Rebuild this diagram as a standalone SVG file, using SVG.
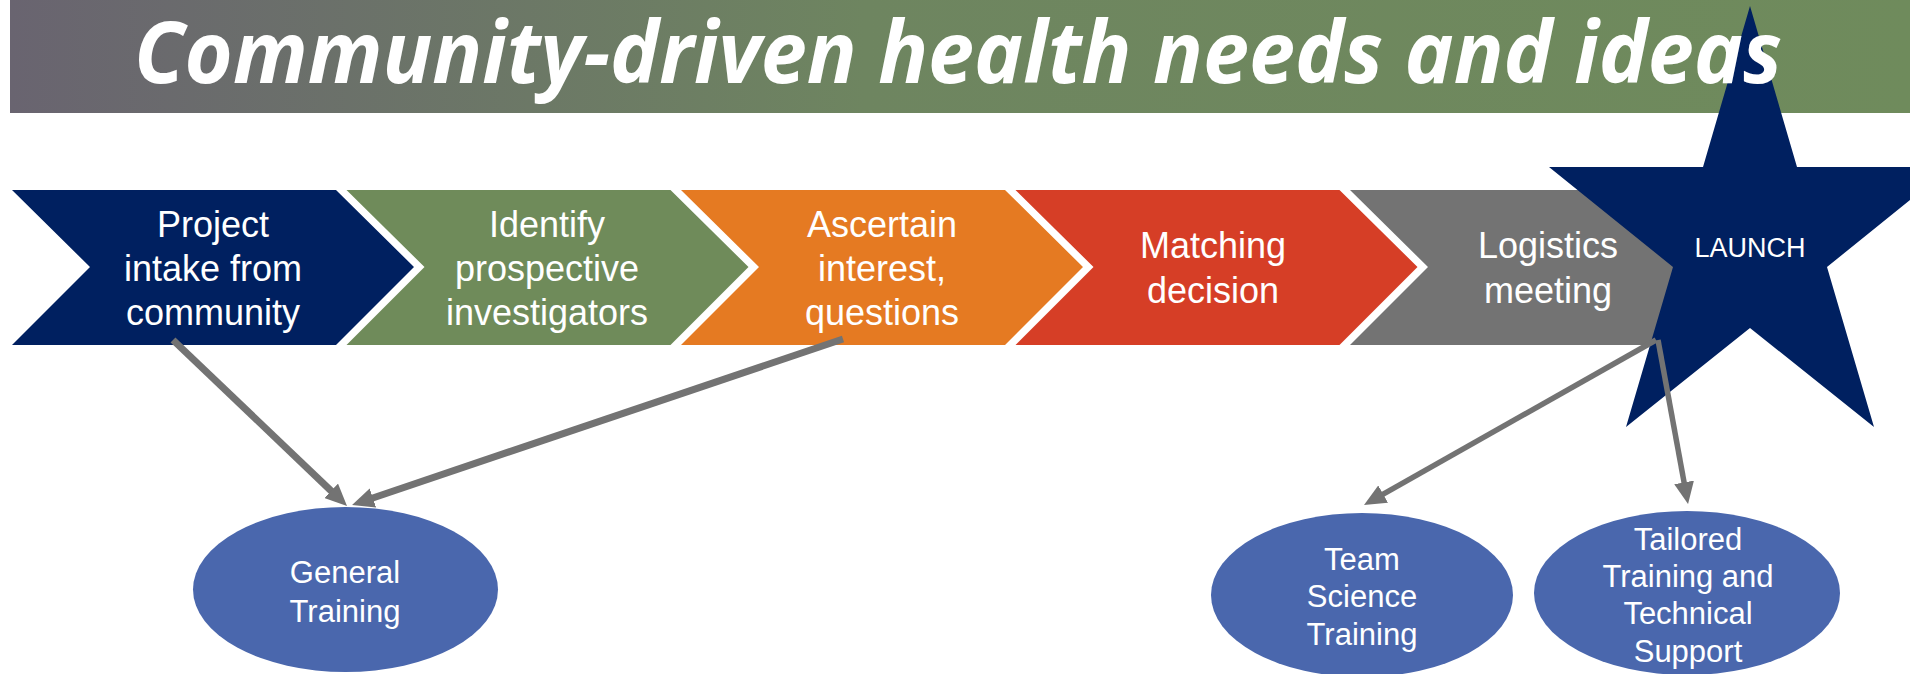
<svg xmlns="http://www.w3.org/2000/svg" width="1919" height="674" viewBox="0 0 1919 674">
<defs>
<linearGradient id="barGrad" x1="0" y1="0" x2="1" y2="0">
<stop offset="0" stop-color="#696470"/>
<stop offset="0.45" stop-color="#6E8560"/>
<stop offset="1" stop-color="#6F8B5C"/>
</linearGradient>
<clipPath id="slideClip">
<rect x="0" y="0" width="1910" height="674"/>
</clipPath>
<marker id="head" markerUnits="userSpaceOnUse" viewBox="0 0 22 20" markerWidth="22" markerHeight="20" refX="4" refY="10" orient="auto">
<path d="M0,0 L22,10 L0,20 z" fill="#737373"/>
</marker>
</defs>
<style>
.chev-text{font-family:"Liberation Sans",Arial,sans-serif;font-size:36px;fill:#FFFFFF;text-anchor:middle}
.ell-text{font-family:"Liberation Sans",Arial,sans-serif;font-size:31px;fill:#FFFFFF;text-anchor:middle}
.ell{fill:#4A67AD}
.conn{stroke:#737373;fill:none}
</style>
<rect width="1919" height="674" fill="#FFFFFF"/>
<g id="title-bar">
<rect x="10" y="0" width="1900" height="113" fill="url(#barGrad)"/>
</g>
<g id="step1">
<polygon points="12,190 336,190 414,267 336,345 12,345 90,267" fill="#002060"/>
<text class="chev-text"><tspan x="213" y="237">Project</tspan><tspan x="213" y="281">intake from</tspan><tspan x="213" y="325">community</tspan></text>
</g>
<g id="step2">
<polygon points="346.5,190 670.5,190 748.5,267 670.5,345 346.5,345 424.5,267" fill="#6F8B5A"/>
<text class="chev-text"><tspan x="547" y="237">Identify</tspan><tspan x="547" y="281">prospective</tspan><tspan x="547" y="325">investigators</tspan></text>
</g>
<g id="step3">
<polygon points="681,190 1005,190 1083,267 1005,345 681,345 759,267" fill="#E57A22"/>
<text class="chev-text"><tspan x="882" y="237">Ascertain</tspan><tspan x="882" y="281">interest,</tspan><tspan x="882" y="325">questions</tspan></text>
</g>
<g id="step4">
<polygon points="1015.5,190 1339.5,190 1417.5,267 1339.5,345 1015.5,345 1093.5,267" fill="#D63E26"/>
<text class="chev-text"><tspan x="1213" y="258">Matching</tspan><tspan x="1213" y="303">decision</tspan></text>
</g>
<g id="step5">
<polygon points="1350,190 1674,190 1752,267 1674,345 1350,345 1428,267" fill="#737373"/>
<text class="chev-text"><tspan x="1548" y="258">Logistics</tspan><tspan x="1548" y="303">meeting</tspan></text>
</g>
<g id="launch">
<polygon clip-path="url(#slideClip)" points="1750,6 1797,167 1951,167 1827,267 1874,427 1750,328 1626,427 1673,267 1549,167 1703,167" fill="#002060"/>
<text x="1750" y="257" font-family="Liberation Sans, Arial, sans-serif" font-size="27" fill="#FFFFFF" text-anchor="middle">LAUNCH</text>
</g>
<g id="title-text">
<text x="134" y="83" font-family="Open Sans, sans-serif" font-weight="700" font-style="italic" font-size="86" fill="#FFFFFF" textLength="1648" lengthAdjust="spacingAndGlyphs">Community-driven health needs and ideas</text>
</g>
<g id="general-training">
<ellipse class="ell" cx="345.5" cy="589.5" rx="152.5" ry="82.5"/>
<text class="ell-text"><tspan x="345" y="583">General</tspan><tspan x="345" y="622">Training</tspan></text>
</g>
<g id="team-science-training">
<ellipse class="ell" cx="1362" cy="595" rx="151" ry="82"/>
<text class="ell-text"><tspan x="1362" y="570">Team</tspan><tspan x="1362" y="607">Science</tspan><tspan x="1362" y="645">Training</tspan></text>
</g>
<g id="tailored-training">
<ellipse class="ell" cx="1687" cy="593" rx="153" ry="82"/>
<text class="ell-text"><tspan x="1688" y="550">Tailored</tspan><tspan x="1688" y="587">Training and</tspan><tspan x="1688" y="624">Technical</tspan><tspan x="1688" y="662">Support</tspan></text>
</g>
<g id="connectors">
<line class="conn" x1="173" y1="340" x2="334" y2="493.6" stroke-width="7" marker-end="url(#head)"/>
<line class="conn" x1="843" y1="339" x2="369.1" y2="499.2" stroke-width="7" marker-end="url(#head)"/>
<line class="conn" x1="1656" y1="340" x2="1379.7" y2="496.1" stroke-width="5.5" marker-end="url(#head)"/>
<line class="conn" x1="1658" y1="340" x2="1684.8" y2="486.3" stroke-width="5.5" marker-end="url(#head)"/>
</g>
</svg>
